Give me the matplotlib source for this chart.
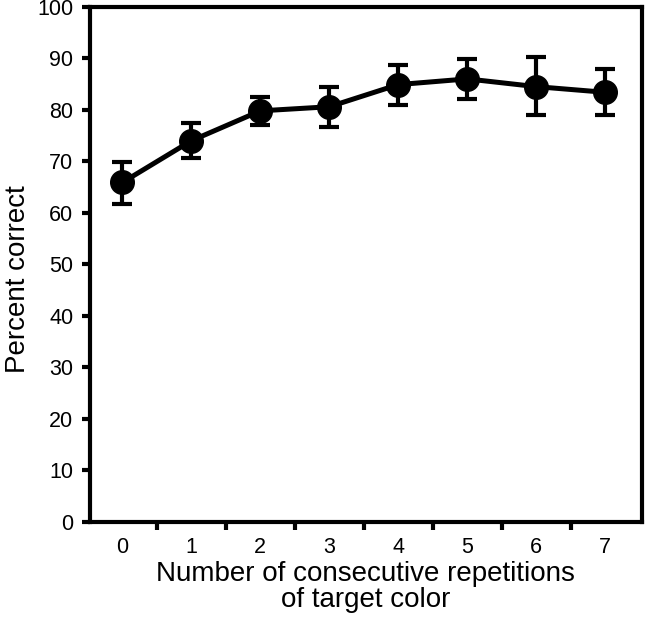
import matplotlib
matplotlib.use("Agg")
import matplotlib.pyplot as plt

plt.rcParams['font.family'] = ['Liberation Sans', 'DejaVu Sans']

repetitions = [0, 1, 2, 3, 4, 5, 6, 7]
percentCorrect = [65.9, 74.0, 79.8, 80.6, 84.9, 86.0, 84.5, 83.4]
errLower = [4.2, 3.4, 2.7, 4.0, 3.9, 3.9, 5.5, 4.4]
errUpper = [3.9, 3.4, 2.7, 3.8, 3.8, 3.9, 5.7, 4.5]
yTicks = [0, 10, 20, 30, 40, 50, 60, 70, 80, 90, 100]

fig = plt.figure(figsize=(6.47, 6.17), dpi=100)
ax = fig.add_axes([0.139, 0.154, 0.853, 0.835])

ax.errorbar(repetitions, percentCorrect, yerr=[errLower, errUpper],
            color='black', linewidth=3.6, marker='o', markersize=17,
            capsize=7.5, capthick=3, elinewidth=3)

ax.set_xlim(-0.47, 7.53)
ax.set_ylim(0, 100)
ax.set_yticks(yTicks)

# labels sit under the points, tick marks sit between them
ax.set_xticks(repetitions)
ax.set_xticklabels([str(r) for r in repetitions])
ax.tick_params(axis='x', which='major', length=0, pad=11, labelsize=15.5)
ax.set_xticks([r + 0.5 for r in repetitions[:-1]], minor=True)
ax.tick_params(axis='x', which='minor', length=6, width=3, direction='out')
ax.tick_params(axis='y', length=6, width=3, direction='out', pad=6, labelsize=15.5)

for side in ['left', 'right', 'top', 'bottom']:
    ax.spines[side].set_linewidth(3)

ax.set_xlabel('Number of consecutive repetitions\nof target color', fontsize=20,
              linespacing=1.0, labelpad=2)
ax.set_ylabel('Percent correct', fontsize=20)
ax.yaxis.set_label_coords(-0.106, 0.472)

fig.savefig('out.png', dpi=100)
